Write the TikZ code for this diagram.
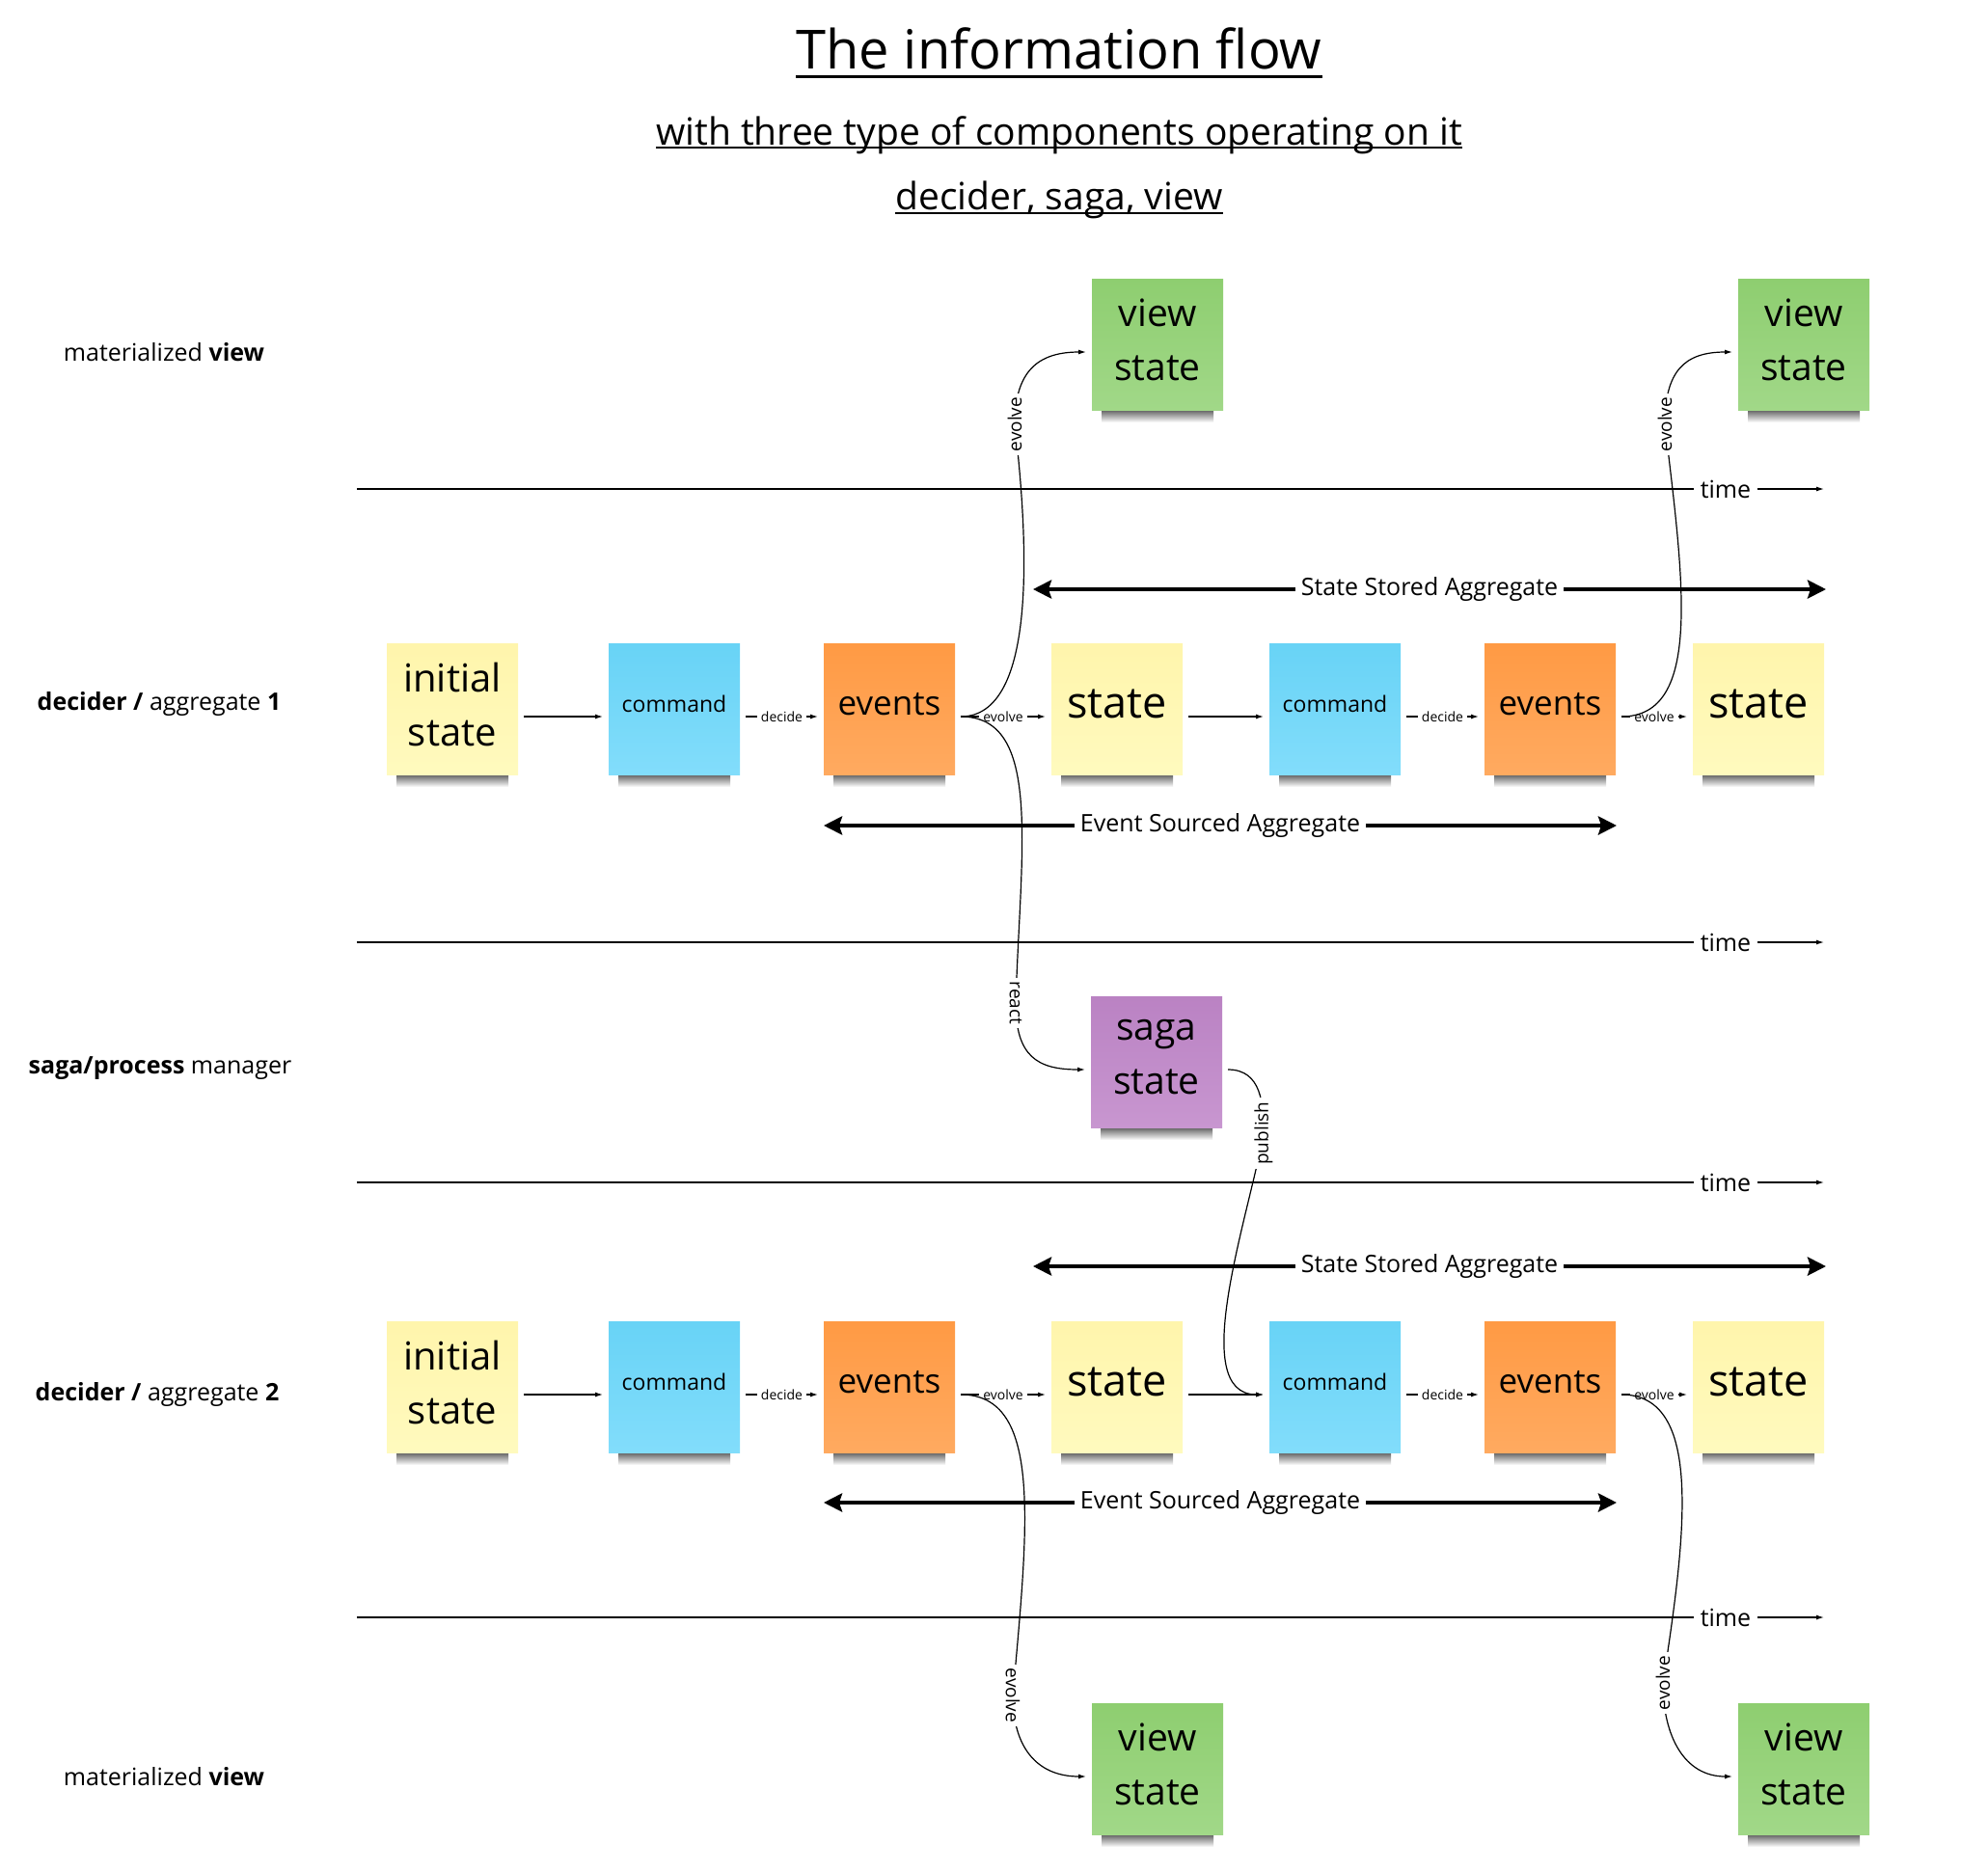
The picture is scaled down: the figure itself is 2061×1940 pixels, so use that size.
\documentclass[tikz,border=0pt]{standalone}
\usepackage{fontspec}
\setmainfont{Open Sans}
\usepackage{tikz}
\usetikzlibrary{positioning,arrows.meta}

\definecolor{yellowTop}{RGB}{255,245,172}
\definecolor{yellowBottom}{RGB}{255,250,190}
\definecolor{blueTop}{RGB}{104,211,246}
\definecolor{blueBottom}{RGB}{130,221,251}
\definecolor{orangeTop}{RGB}{255,154,68}
\definecolor{orangeBottom}{RGB}{255,170,96}
\definecolor{greenTop}{RGB}{142,206,112}
\definecolor{greenBottom}{RGB}{161,216,136}
\definecolor{purpleTop}{RGB}{186,130,195}
\definecolor{purpleBottom}{RGB}{200,150,208}
\definecolor{shadowColor}{RGB}{85,85,85}

\tikzstyle{canvas} = [x = 1pt, y = -1pt]
\tikzstyle{sticky} = [minimum width = 136pt, minimum height = 136pt, inner sep = 0pt, outer sep = 6pt, align = center, text depth = 10pt]
\tikzstyle{yellowNote} = [sticky, top color = yellowTop, bottom color = yellowBottom]
\tikzstyle{blueNote} = [sticky, top color = blueTop, bottom color = blueBottom]
\tikzstyle{orangeNote} = [sticky, top color = orangeTop, bottom color = orangeBottom]
\tikzstyle{greenNote} = [sticky, top color = greenTop, bottom color = greenBottom]
\tikzstyle{purpleNote} = [sticky, top color = purpleTop, bottom color = purpleBottom]
\tikzstyle{flow} = [line width = 1.2pt, -{Latex[length = 8pt, width = 5pt]}]
\tikzstyle{axisLine} = [line width = 1.2pt]
\tikzstyle{spanArrow} = [line width = 4.5pt, {Stealth[length = 19pt, width = 19pt, inset = 3pt]}-{Stealth[length = 19pt, width = 19pt, inset = 3pt]}]
\tikzstyle{spanLabel} = [fill = white, inner sep = 6pt, font = \fontsize{25}{30}\selectfont]
\tikzstyle{edgeLabel} = [fill = white, inner sep = 4pt, font = \fontsize{14}{16}\selectfont]
\tikzstyle{curveLabel} = [fill = white, inner sep = 4pt, font = \fontsize{19}{22}\selectfont]
\tikzstyle{timeLabel} = [inner sep = 7pt, font = \fontsize{25}{30}\selectfont]
\tikzstyle{rowLabel} = [inner sep = 0pt, font = \fontsize{25}{30}\selectfont]
\tikzstyle{heading} = [inner sep = 0pt, anchor = base]

\newcommand{\bigText}{\fontsize{40}{56}\selectfont}
\newcommand{\viewText}{\fontsize{39}{56}\selectfont}
\newcommand{\stateText}{\fontsize{45}{54}\selectfont}
\newcommand{\eventText}{\fontsize{35}{42}\selectfont}
\newcommand{\commandText}{\fontsize{23}{28}\selectfont}
\newcommand{\stickyNote}[5]{
  \shade [top color = shadowColor, bottom color = white] (#3 - 58, #4 + 67) rectangle (#3 + 58, #4 + 81);
  \node [#2] (#1) at (#3, #4) {#5};
}

\begin{document}
\begin{tikzpicture}[canvas]
  \useasboundingbox (0, 0) rectangle (2061, 1940);

  % headings
  \node [heading, font = \fontsize{56}{64}\selectfont] (title) at (1098, 72) {The information flow};
  \draw [line width = 3pt] ([yshift = -7.5pt]title.base west) -- ([yshift = -7.5pt]title.base east);
  \node [heading, font = \fontsize{39}{46}\selectfont] (subtitle) at (1098, 150) {with three type of components operating on it};
  \draw [line width = 2pt] ([yshift = -3.5pt]subtitle.base west) -- ([yshift = -3.5pt]subtitle.base east);
  \node [heading, font = \fontsize{39}{46}\selectfont] (components) at (1098, 217) {decider, saga, view};
  \draw [line width = 2pt] ([yshift = -4pt]components.base west) -- ([yshift = -4pt]components.base east);

  % row labels
  \node [rowLabel] (viewRowTop) at (170, 365) {materialized \textbf{view}};
  \node [rowLabel] (deciderRow1) at (165, 730) {\textbf{decider /} aggregate \textbf{1}};
  \node [rowLabel] (sagaRow) at (166, 1108) {\textbf{saga/process} manager};
  \node [rowLabel] (deciderRow2) at (163, 1446) {\textbf{decider /} aggregate \textbf{2}};
  \node [rowLabel] (viewRowBottom) at (170, 1842) {materialized \textbf{view}};

  % time axes
  \foreach \axisY [count = \i] in {507, 977, 1226, 1677} {
    \coordinate (axisStart\i) at (370, \axisY);
    \coordinate (axisEnd\i) at (1891, \axisY);
    \node [timeLabel] (time\i) at (1789, \axisY) {time};
    \draw [axisLine] (axisStart\i) -- (time\i.west);
    \draw [axisLine, -{Latex[length = 8pt, width = 5pt]}] (time\i.east) -- (axisEnd\i);
  }

  % aggregate spans
  \foreach \spanY/\leftX/\rightX/\spanText [count = \i] in {611/1071/1893/State Stored Aggregate, 856/854/1676/Event Sourced Aggregate, 1313/1071/1893/State Stored Aggregate, 1558/854/1676/Event Sourced Aggregate} {
    \coordinate (spanLeft\i) at (\leftX, \spanY);
    \coordinate (spanRight\i) at (\rightX, \spanY);
    \draw [spanArrow] (spanLeft\i) -- node [spanLabel] {\spanText} (spanRight\i);
  }

  % deciders
  \foreach \row/\rowY in {1/735, 2/1438} {
    \stickyNote{init\row}{yellowNote, font = \bigText}{469}{\rowY}{initial\\state}
    \stickyNote{cmdA\row}{blueNote, font = \commandText}{699}{\rowY}{command}
    \stickyNote{evA\row}{orangeNote, font = \eventText}{922}{\rowY}{events}
    \stickyNote{stateA\row}{yellowNote, font = \stateText}{1158}{\rowY}{state}
    \stickyNote{cmdB\row}{blueNote, font = \commandText}{1384}{\rowY}{command}
    \stickyNote{evB\row}{orangeNote, font = \eventText}{1607}{\rowY}{events}
    \stickyNote{stateB\row}{yellowNote, font = \stateText}{1823}{\rowY}{state}

    \draw [flow] ([yshift = -8pt]init\row.east) -- ([yshift = -8pt]cmdA\row.west);
    \draw [flow] ([yshift = -8pt]cmdA\row.east) -- node [edgeLabel] {decide} ([yshift = -8pt]evA\row.west);
    \draw [flow] ([yshift = -8pt]evA\row.east) -- node [edgeLabel] {evolve} ([yshift = -8pt]stateA\row.west);
    \draw [flow] ([yshift = -8pt]stateA\row.east) -- ([yshift = -8pt]cmdB\row.west);
    \draw [flow] ([yshift = -8pt]cmdB\row.east) -- node [edgeLabel] {decide} ([yshift = -8pt]evB\row.west);
    \draw [flow] ([yshift = -8pt]evB\row.east) -- node [edgeLabel] {evolve} ([yshift = -8pt]stateB\row.west);
  }

  % views and saga
  \stickyNote{viewTopA}{greenNote, font = \viewText}{1200}{357}{view\\state}
  \stickyNote{viewTopB}{greenNote, font = \viewText}{1870}{357}{view\\state}
  \stickyNote{sagaNote}{purpleNote, font = \viewText}{1199}{1101}{saga\\state}
  \stickyNote{viewBottomA}{greenNote, font = \viewText}{1200}{1834}{view\\state}
  \stickyNote{viewBottomB}{greenNote, font = \viewText}{1870}{1834}{view\\state}

  % curved connectors
  \coordinate (evolveTopA) at (1052, 440);
  \coordinate (evolveTopB) at (1726, 440);
  \coordinate (reactPoint) at (1053, 1040);
  \coordinate (publishPoint) at (1310, 1175);
  \coordinate (evolveBottomA) at (1050, 1758);
  \coordinate (evolveBottomB) at (1724, 1745);

  \draw [flow] ([yshift = -8pt]evA1.east) .. controls +(80, 0) and +(14, 120) .. (evolveTopA) node [curveLabel, rotate = 90] {evolve}
    .. controls +(0, -55) and +(-50, 0) .. ([yshift = -8pt]viewTopA.west);
  \draw [flow] ([yshift = -8pt]evB1.east) .. controls +(85, 0) and +(19, 160) .. (evolveTopB) node [curveLabel, rotate = 90] {evolve}
    .. controls +(0, -55) and +(-50, 0) .. ([yshift = -8pt]viewTopB.west);
  \draw [flow] ([yshift = -8pt]evA1.east) .. controls +(85, 0) and +(5, -160) .. (reactPoint) node [curveLabel, rotate = -90] {react}
    .. controls +(0, 55) and +(-50, 0) .. ([yshift = -8pt]sagaNote.west);
  \draw [flow] ([yshift = -8pt]sagaNote.east) .. controls +(35, 0) and +(0, -30) .. (publishPoint) node [curveLabel, rotate = 90] {publish}
    .. controls +(-15, 85) and +(-80, 0) .. ([yshift = -8pt]cmdB2.west);
  \draw [flow] ([yshift = -8pt]evA2.east) .. controls +(85, 0) and +(16, -178) .. (evolveBottomA) node [curveLabel, rotate = -90] {evolve}
    .. controls +(0, 55) and +(-50, 0) .. ([yshift = -8pt]viewBottomA.west);
  \draw [flow] ([yshift = -8pt]evB2.east) .. controls +(85, 0) and +(24, -155) .. (evolveBottomB) node [curveLabel, rotate = 90] {evolve}
    .. controls +(0, 55) and +(-50, 0) .. ([yshift = -8pt]viewBottomB.west);
\end{tikzpicture}
\end{document}
